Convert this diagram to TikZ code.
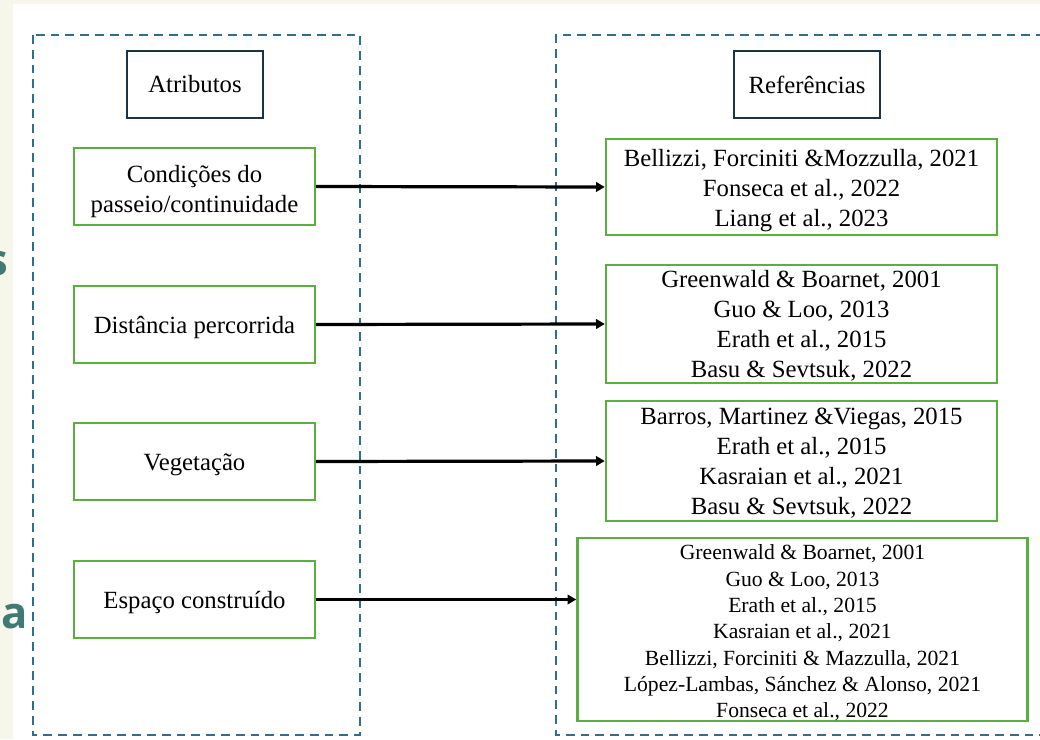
\documentclass[tikz,border=0pt]{standalone}
\usepackage{fontspec}
\setmainfont{Liberation Serif}
\newfontfamily\slidefont{Open Sans}
\usetikzlibrary{arrows.meta}

\definecolor{slidebg}{HTML}{F6F6EA}
\definecolor{frameblue}{HTML}{2F6E8F}
\definecolor{headnavy}{HTML}{1B3445}
\definecolor{boxgreen}{HTML}{5BAE40}
\definecolor{slideteal}{HTML}{3F7B74}

% strut that lowers the text block a little
\newcommand{\lowstrut}[1]{\rule{0pt}{#1}}

\tikzset{
  headbox/.style={draw=headnavy, line width=0.5mm, fill=white, inner sep=0pt, align=center,
    font=\fontsize{17.6}{21.3}\selectfont},
  attrbox/.style={draw=boxgreen, line width=0.6mm, fill=white, inner sep=0pt, align=center,
    minimum width=60.25mm, minimum height=19.25mm, font=\fontsize{17.6}{21.3}\selectfont},
  refbox/.style={draw=boxgreen, line width=0.6mm, fill=white, inner sep=0pt, align=center,
    font=\fontsize{17.6}{21.3}\selectfont},
  frame/.style={draw=frameblue, line width=0.5mm, dash pattern=on 2.2mm off 1.5mm},
  link/.style={-{Triangle[length=2.2mm,width=2.4mm]}, line width=0.8mm}
}

\begin{document}
\begin{tikzpicture}[x=0.25mm,y=-0.25mm]

% slide background with a white panel
\useasboundingbox (0,0) rectangle (1040,739);
\clip (0,0) rectangle (1040,739);
\fill [slidebg] (0,0) rectangle (1040,739);
\fill [white] (13,4) rectangle (1040,739);

% cut-off letters of the slide
\node [anchor=base east, inner sep=0pt, text=slideteal, font=\slidefont\bfseries\fontsize{31}{31}\selectfont] (sletter) at (8,275) {s};
\node [anchor=base west, inner sep=0pt, text=slideteal, font=\slidefont\bfseries\fontsize{31}{31}\selectfont] (aletter) at (1,628) {a};

% dashed frames
\draw [frame] (33,35) rectangle (360,735);
\draw [frame] (1045,35) -- (556,35) -- (556,735) -- (1045,735);

% headers
\node [headbox, minimum width=34mm, minimum height=16.75mm] (attr) at (195,84.5) {Atributos};
\node [headbox, minimum width=36.5mm, minimum height=16.75mm] (refs) at (807,84.5) {Referências};

% attributes
\node [attrbox] (cond) at (194.5,186.5) {\lowstrut{6.8mm}Condições do\\passeio/continuidade};
\node [attrbox] (dist) at (194.5,324.5) {\lowstrut{6mm}Distância percorrida};
\node [attrbox] (veg) at (194.5,461.5) {\lowstrut{6mm}Vegetação};
\node [attrbox] (esp) at (194.5,599.5) {\lowstrut{6mm}Espaço construído};

% references
\node [refbox, minimum width=97.75mm, minimum height=24mm] (ref1) at (801.5,187)
  {\lowstrut{6mm}Bellizzi, Forciniti \&Mozzulla, 2021\\Fonseca et al., 2022\\Liang et al., 2023};
\node [refbox, minimum width=97.75mm, minimum height=29.5mm] (ref2) at (801.5,324)
  {\lowstrut{5.4mm}Greenwald \& Boarnet, 2001\\Guo \& Loo, 2013\\Erath et al., 2015\\Basu \& Sevtsuk, 2022};
\node [refbox, minimum width=97.75mm, minimum height=30mm] (ref3) at (801.5,461)
  {\lowstrut{5.4mm}Barros, Martinez \&Viegas, 2015\\Erath et al., 2015\\Kasraian et al., 2021\\Basu \& Sevtsuk, 2022};
\node [refbox, minimum width=112.5mm, minimum height=45.75mm, font=\fontsize{15.4}{18.7}\selectfont] (ref4) at (802.5,629.5)
  {\lowstrut{5.5mm}Greenwald \& Boarnet, 2001\\Guo \& Loo, 2013\\Erath et al., 2015\\Kasraian et al., 2021\\Bellizzi, Forciniti \& Mazzulla, 2021\\López-Lambas, Sánchez \& Alonso, 2021\\Fonseca et al., 2022};

% arrows
\draw [link] (cond.east) -- (ref1.west);
\draw [link] (dist.east) -- (ref2.west);
\draw [link] (veg.east) -- (ref3.west);
\draw [link] (esp.east) -- (esp.east -| ref4.west);

\end{tikzpicture}
\end{document}
